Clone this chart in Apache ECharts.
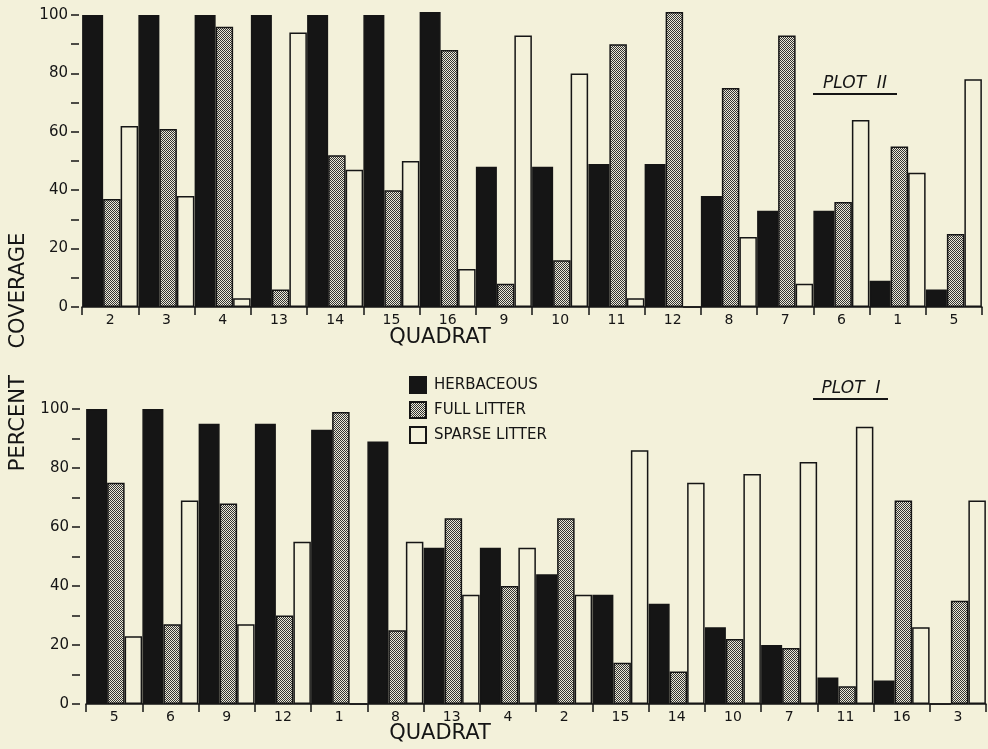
<!DOCTYPE html>
<html>
<head>
<meta charset="utf-8">
<style>
  html, body { margin: 0; padding: 0; background: #f3f1da; }
  #chart { width: 988px; height: 749px; }
</style>
<script src="https://cdn.jsdelivr.net/npm/echarts@6/dist/echarts.min.js"></script>
</head>
<body>
<div id="chart"></div>
<script>
// ---- Data ----
const categoriesII = ['2','3','4','13','14','15','16','9','10','11','12','8','7','6','1','5'];
const herbII   = [100,100,100,100,100,100,101,48,48,49,49,38,33,33,9,6];
const fullII   = [37,61,96,6,52,40,88,8,16,90,101,75,93,36,55,25];
const sparseII = [62,38,3,94,47,50,13,93,80,3,0,24,8,64,46,78];

const categoriesI = ['5','6','9','12','1','8','13','4','2','15','14','10','7','11','16','3'];
const herbI   = [100,100,95,95,93,89,53,53,44,37,34,26,20,9,8,0];
const fullI   = [75,27,68,30,99,25,63,40,63,14,11,22,19,6,69,35];
const sparseI = [23,69,27,55,0,55,37,53,37,86,75,78,82,94,26,69];

const seriesNames = ['HERBACEOUS', 'FULL LITTER', 'SPARSE LITTER'];

// ---- Styles ----
const BG = '#f3f1da';
const INK = '#151515';
const FONT = 'DejaVu Sans';

const pc = document.createElement('canvas');
pc.width = 2; pc.height = 2;
const pctx = pc.getContext('2d');
pctx.fillStyle = '#ebe9d8'; pctx.fillRect(0, 0, 2, 2);
pctx.fillStyle = '#333333'; pctx.fillRect(0, 0, 1, 1); pctx.fillRect(1, 1, 1, 1);
const stipple = { image: pc, repeat: 'repeat' };

const fills = [INK, stipple, BG];
const widths = [21, 17.5, 17.5];

const chart = echarts.init(document.getElementById('chart'), null, { renderer: 'canvas' });

function xAxisFor(idx, cats) {
  return {
    type: 'category', gridIndex: idx, data: cats,
    axisLine: { show: true, lineStyle: { color: INK, width: 1.5 } },
    axisTick: { show: true, length: 8, lineStyle: { color: INK, width: 1.5 } },
    axisLabel: { color: INK, fontFamily: FONT, fontSize: 14, margin: 6 },
    splitLine: { show: false }
  };
}
function yAxisFor(idx, off) {
  return {
    type: 'value', gridIndex: idx, min: 0, max: 100, interval: 20, offset: off,
    axisLine: { show: false },
    axisTick: { show: true, length: 8, lineStyle: { color: INK, width: 1.5 } },
    minorTick: { show: true, splitNumber: 2, length: 8, lineStyle: { color: INK, width: 1.5 } },
    axisLabel: { color: INK, fontFamily: FONT, fontSize: 15, margin: 11 },
    splitLine: { show: false }, minorSplitLine: { show: false }
  };
}
function barSeries(name, i, data, axisIdx) {
  return {
    name: name, type: 'bar', xAxisIndex: axisIdx, yAxisIndex: axisIdx,
    data: data, barGap: '0%', barCategoryGap: '0%', barWidth: widths[i], clip: false,
    itemStyle: { color: fills[i], borderColor: INK, borderWidth: 1.5 },
    emphasis: { disabled: true }, animation: false
  };
}

const option = {
  backgroundColor: BG,
  animation: false,
  grid: [
    { left: 82, right: 6, top: 15, bottom: 442 },
    { left: 86, right: 2, top: 409, bottom: 45 }
  ],
  xAxis: [xAxisFor(0, categoriesII), xAxisFor(1, categoriesI)],
  yAxis: [yAxisFor(0, 3), yAxisFor(1, 6)],
  legend: {
    orient: 'vertical', left: 404, top: 371,
    itemWidth: 16, itemHeight: 16, itemGap: 7,
    icon: 'rect',
    data: seriesNames,
    textStyle: { color: INK, fontFamily: FONT, fontSize: 15, padding: [0, 0, 0, 3] },
    selectedMode: false
  },
  series: [
    barSeries(seriesNames[0], 0, herbII, 0),
    barSeries(seriesNames[1], 1, fullII, 0),
    barSeries(seriesNames[2], 2, sparseII, 0),
    barSeries(seriesNames[0], 0, herbI, 1),
    barSeries(seriesNames[1], 1, fullI, 1),
    barSeries(seriesNames[2], 2, sparseI, 1)
  ],
  graphic: [
    { type: 'text', x: 19, y: 352, rotation: Math.PI / 2,
      style: { text: 'PERCENT    COVERAGE', fill: INK, font: '21px "DejaVu Sans"', textAlign: 'center', textVerticalAlign: 'middle' } },
    { type: 'text', x: 440, y: 338,
      style: { text: 'QUADRAT', fill: INK, font: '21px "DejaVu Sans"', textAlign: 'center', textVerticalAlign: 'middle' } },
    { type: 'text', x: 440, y: 734,
      style: { text: 'QUADRAT', fill: INK, font: '21px "DejaVu Sans"', textAlign: 'center', textVerticalAlign: 'middle' } },
    { type: 'text', x: 855, y: 84,
      style: { text: 'PLOT  II', fill: INK, font: 'italic 17px "DejaVu Sans"', textAlign: 'center', textVerticalAlign: 'middle' } },
    { type: 'line', shape: { x1: 813, y1: 94, x2: 897, y2: 94 }, style: { stroke: INK, lineWidth: 2 } },
    { type: 'text', x: 851, y: 389,
      style: { text: 'PLOT  I', fill: INK, font: 'italic 17px "DejaVu Sans"', textAlign: 'center', textVerticalAlign: 'middle' } },
    { type: 'line', shape: { x1: 813, y1: 399, x2: 888, y2: 399 }, style: { stroke: INK, lineWidth: 2 } }
  ]
};
chart.setOption(option);
</script>
</body>
</html>
